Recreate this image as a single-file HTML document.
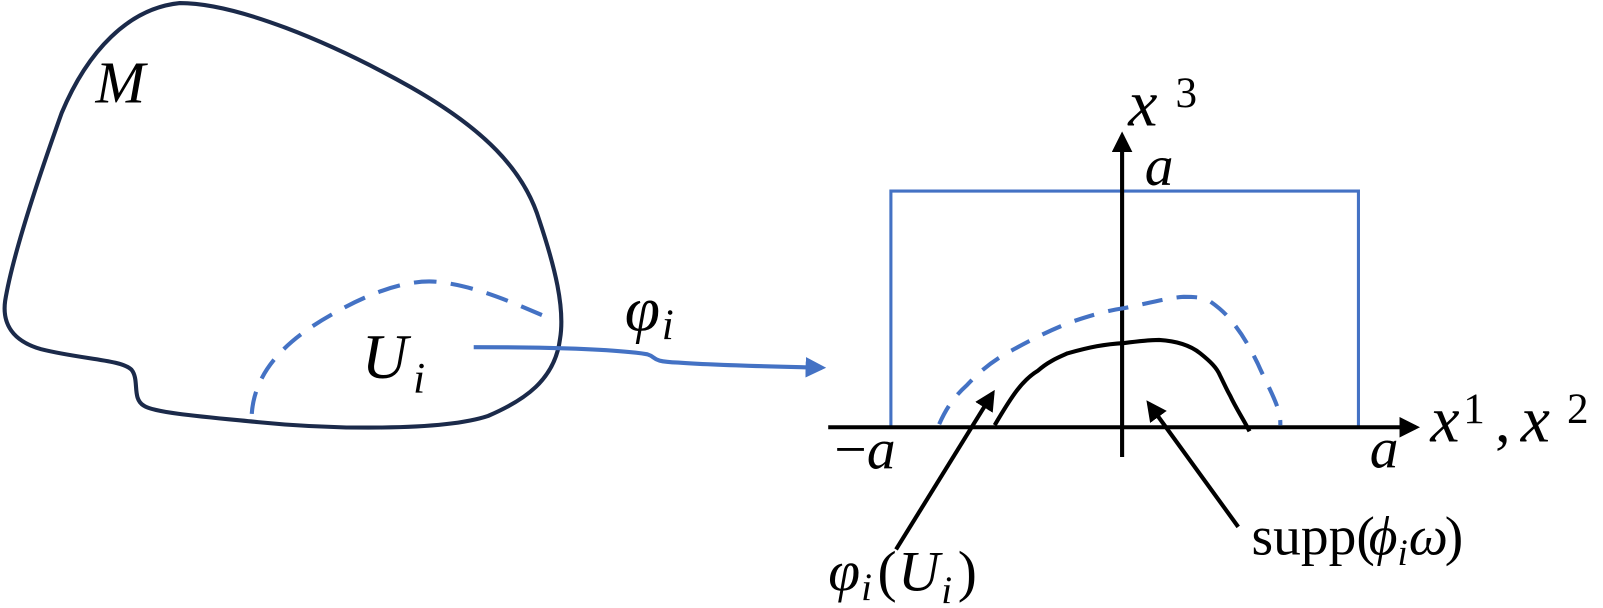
<!DOCTYPE html>
<html><head><meta charset="utf-8"><style>
html,body{margin:0;padding:0;background:#fff;}
svg{display:block;}
text{font-family:"Liberation Serif",serif;font-style:italic;fill:#000;}
.up{font-style:normal;}
</style></head><body>
<svg width="1603" height="608" viewBox="0 0 1560 592" preserveAspectRatio="none" xmlns="http://www.w3.org/2000/svg">
<defs>
<marker id="ab" markerWidth="5" markerHeight="5" refX="4" refY="2.5" orient="auto" markerUnits="strokeWidth"><path d="M0,0 L5,2.5 L0,5 Z" fill="#000"/></marker>
<marker id="ablue" markerWidth="5" markerHeight="5" refX="4" refY="2.5" orient="auto" markerUnits="strokeWidth"><path d="M0,0 L5,2.5 L0,5 Z" fill="#4472C4"/></marker>
</defs>
<path d="M175,3 C125,8 85,50 60,110 C35,180 12,250 5,293 C2,315 12,332 40,340 C80,350 118,350 128,360 C136,370 128,388 140,395 C150,402 200,406 251,411 C320,418 430,420 475,405 C510,390 540,370 545,330 C550,300 540,260 525,215 C510,165 470,125 400,85 C320,40 230,3 175,3 Z" fill="none" stroke="#1b2a4a" stroke-width="4"/>
<path d="M245,403 C248,360 280,330 325,305 C360,285 400,270 430,275 C470,280 510,300 540,312" fill="none" stroke="#4472C4" stroke-width="4" stroke-dasharray="22,14"/>
<path d="M461,338 C540,338 600,340 630,345 C640,348 632,352 660,353 C700,356 760,357 800,358" fill="none" stroke="#4472C4" stroke-width="4" marker-end="url(#ablue)"/>
<text x="93" y="100" font-size="58">M</text>
<text x="352" y="368" font-size="62">U</text><text x="402" y="382" font-size="42">i</text>
<text x="608" y="322" font-size="62">φ</text><text x="644" y="330" font-size="42">i</text>
<path d="M867,416 V186 H1322 V416" fill="none" stroke="#4472C4" stroke-width="3"/>
<line x1="806" y1="416" x2="1378" y2="416" stroke="#000" stroke-width="4" marker-end="url(#ab)"/>
<line x1="1092" y1="445" x2="1092" y2="132" stroke="#000" stroke-width="4" marker-end="url(#ab)"/>
<path d="M914,413 C922,395 930,385 941,375 C955,360 968,350 985,341 C1005,330 1025,320 1044,313 C1065,306 1080,302 1094,300 C1115,296 1135,290 1152,289 C1165,289 1172,290 1177,293 C1190,302 1197,310 1202,317 C1212,330 1218,342 1224,354 C1232,372 1240,386 1244,399 C1246,406 1246,410 1246,414" fill="none" stroke="#4472C4" stroke-width="4" stroke-dasharray="20,14"/>
<path d="M968,414 C985,385 995,370 1010,361 C1020,352 1030,348 1039,344 C1060,338 1075,335 1094,334 C1110,332 1120,331 1128,331 C1145,332 1158,336 1168,344 C1178,352 1184,358 1187,365 C1192,375 1194,380 1197,385 C1203,398 1210,408 1216,420" fill="none" stroke="#000" stroke-width="4"/>
<line x1="872" y1="535" x2="966" y2="383" stroke="#000" stroke-width="4" marker-end="url(#ab)"/>
<line x1="1205" y1="513" x2="1118" y2="393" stroke="#000" stroke-width="4" marker-end="url(#ab)"/>
<text x="1098" y="122" font-size="64">x</text><text x="1144" y="104" font-size="42" class="up">3</text>
<text x="1114" y="180" font-size="56">a</text>
<text x="812" y="456" font-size="56"><tspan style="font-style:normal">−</tspan>a</text>
<text x="1333" y="455" font-size="56">a</text>
<text x="1392" y="430" font-size="64">x</text><text x="1424" y="412" font-size="42" class="up">1</text>
<text x="1455" y="430" font-size="60" class="up">,</text>
<text x="1480" y="430" font-size="64">x</text><text x="1525" y="412" font-size="42" class="up">2</text>
<text x="1218" y="540" font-size="54" class="up">supp(</text>
<text x="1332" y="540" font-size="54">ϕ</text><text x="1360" y="550" font-size="36">i</text>
<text x="1371" y="540" font-size="54">ω</text><text x="1406" y="540" font-size="54" class="up">)</text>
<text x="806" y="575" font-size="56">φ</text><text x="838" y="584" font-size="38">i</text>
<text x="854" y="575" font-size="56" class="up">(</text><text x="874" y="575" font-size="56">U</text><text x="916" y="587" font-size="38">i</text><text x="932" y="575" font-size="56" class="up">)</text>
</svg>
</body></html>
